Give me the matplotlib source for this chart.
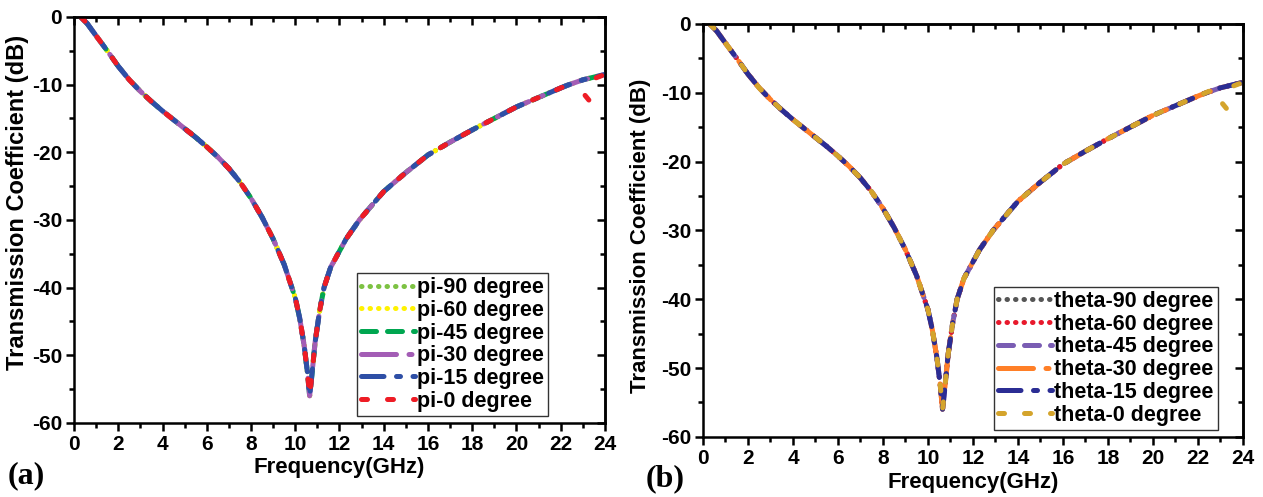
import numpy as np
import matplotlib
matplotlib.use("Agg")
import matplotlib.pyplot as plt

# ---- data ----
freq = [0.3, 0.6, 1.0, 1.5, 2.0, 2.5, 3.0, 3.5, 4.0, 4.5, 5.0, 5.5, 6.0, 6.5, 7.0,
        7.5, 8.0, 8.5, 9.0, 9.5, 10.0, 10.2, 10.4, 10.55, 10.65, 10.75, 10.9, 11.1,
        11.3, 11.6, 12.0, 12.3, 12.9, 13.5, 14.0, 15.0, 16.0, 17.0, 18.0, 19.0, 20.0,
        21.0, 22.0, 22.3, 23.0, 23.5, 24.0]
s21 = [0.0, -1.0, -2.8, -5.0, -7.3, -9.3, -11.0, -12.5, -13.9, -15.2, -16.5, -17.8,
       -19.2, -20.7, -22.4, -24.4, -26.8, -29.6, -32.8, -36.6, -41.5, -44.5, -48.5,
       -52.5, -56.0, -53.0, -48.0, -43.5, -40.0, -37.0, -34.6, -32.8, -30.0, -27.7,
       -25.8, -23.0, -20.4, -18.5, -16.7, -15.0, -13.3, -11.9, -10.5, -10.1, -9.3,
       -8.9, -8.5]

# pi-0 / theta-0 traces with the small glitch near 23 GHz
freq0 = [0.3, 0.6, 1.0, 1.5, 2.0, 2.5, 3.0, 3.5, 4.0, 4.5, 5.0, 5.5, 6.0, 6.5, 7.0,
         7.5, 8.0, 8.5, 9.0, 9.5, 10.0, 10.2, 10.4, 10.55, 10.65, 10.75, 10.9, 11.1,
         11.3, 11.6, 12.0, 12.3, 12.9, 13.5, 14.0, 15.0, 16.0, 17.0, 18.0, 19.0, 20.0,
         21.0, 22.0, 22.5, 22.8, 22.9, 23.1, 23.3, 23.4, 23.6, 24.0]
s21_0 = [0.0, -1.0, -2.8, -5.0, -7.3, -9.3, -11.0, -12.5, -13.9, -15.2, -16.5, -17.8,
         -19.2, -20.7, -22.4, -24.4, -26.8, -29.6, -32.8, -36.6, -41.5, -44.5, -48.5,
         -52.5, -56.0, -53.0, -48.0, -43.5, -40.0, -37.0, -34.6, -32.8, -30.0, -27.7,
         -25.8, -23.0, -20.4, -18.5, -16.7, -15.0, -13.3, -11.9, -10.5, -9.8, -9.5,
         np.nan, -11.6, -12.4, np.nan, -9.0, -8.5]

pi_labels = ["pi-90 degree", "pi-60 degree", "pi-45 degree", "pi-30 degree",
             "pi-15 degree", "pi-0 degree"]
theta_labels = ["theta-90 degree", "theta-60 degree", "theta-45 degree",
                "theta-30 degree", "theta-15 degree", "theta-0 degree"]

pi_colors = ["#7DC243", "#FFF200", "#00A650", "#A35DB5", "#2E4FA6", "#EE1C25"]
theta_colors = ["#555555", "#E8192C", "#7A5DB3", "#FF7F27", "#2B2D94", "#D4A42C"]

styles = [(0, (0.1, 1.6)), (0, (0.1, 1.6)), (0, (3.0, 2.2)), (0, (7, 2.5, 0.6, 2.5)),
          (0, (4.5, 2.5, 0.8, 2.5)), (0, (1.2, 4.0))]

xticks_major = list(range(0, 25, 2))
xticks_minor = list(range(0, 25, 1))
yticks_major = list(range(-60, 1, 10))
yticks_minor = list(range(-60, 1, 5))

plt.rcParams['font.family'] = ['Liberation Sans', 'DejaVu Sans']
plt.rcParams['font.weight'] = 'bold'
plt.rcParams['axes.unicode_minus'] = False

fig = plt.figure(figsize=(12.63, 4.97), dpi=100)
ax1 = fig.add_axes([0.0586, 0.149, 0.4204, 0.817])
ax2 = fig.add_axes([0.5566, 0.121, 0.4274, 0.831])

SPW = 1.8


def draw(ax, labels, colors, legend_anchor, ylab_size, xlab_coords, ylab_coords):
    for i, (lab, col, ls) in enumerate(zip(labels, colors, styles)):
        if i == 5:
            x, y = freq0, s21_0
        else:
            x, y = freq, s21
        ax.plot(x, y, color=col, lw=3.6, linestyle=ls, label=lab,
                dash_capstyle='round', solid_capstyle='round')
    ax.set_xlim(0, 24)
    ax.set_ylim(-60, 0)
    ax.set_xticks(xticks_major)
    ax.set_xticks(xticks_minor, minor=True)
    ax.set_yticks(yticks_major)
    ax.set_yticks(yticks_minor, minor=True)
    ax.tick_params(which='both', direction='out', top=False, right=False,
                   labelsize=15, width=SPW, pad=2.5)
    ax.tick_params(which='major', length=6)
    ax.tick_params(which='minor', length=3.5)
    for lab in ax.get_xticklabels() + ax.get_yticklabels():
        lab.set_fontweight('bold')
    for sp in ax.spines.values():
        sp.set_linewidth(SPW)

    # mirrored inward ticks on top and right
    sx = ax.secondary_xaxis('top')
    sx.set_xticks(xticks_major)
    sx.set_xticks(xticks_minor, minor=True)
    sx.tick_params(which='both', direction='in', labeltop=False, width=SPW)
    sx.tick_params(which='major', length=6)
    sx.tick_params(which='minor', length=3.5)
    sx.spines['top'].set_linewidth(SPW)
    sy = ax.secondary_yaxis('right')
    sy.set_yticks(yticks_major)
    sy.set_yticks(yticks_minor, minor=True)
    sy.tick_params(which='both', direction='in', labelright=False, width=SPW)
    sy.tick_params(which='major', length=6)
    sy.tick_params(which='minor', length=3.5)
    sy.spines['right'].set_linewidth(SPW)

    ax.set_xlabel("Frequency(GHz)", fontsize=16, fontweight='bold')
    ax.set_ylabel("Transmission Coefficient (dB)", fontsize=ylab_size,
                  fontweight='bold')
    ax.xaxis.set_label_coords(*xlab_coords)
    ax.yaxis.set_label_coords(*ylab_coords)
    leg = ax.legend(loc='lower right', bbox_to_anchor=legend_anchor,
                    prop={'family': 'Liberation Sans', 'weight': 'bold', 'size': 15.5},
                    handlelength=2.5, handletextpad=0.1, labelspacing=0.08,
                    borderpad=0.2, borderaxespad=0.0, fancybox=False, framealpha=1)
    leg.get_frame().set_edgecolor('#333333')
    leg.get_frame().set_linewidth(1.0)


draw(ax1, pi_labels, pi_colors, (0.893, 0.017), 17, (0.5, -0.084), (-0.084, 0.544))
draw(ax2, theta_labels, theta_colors, (0.954, 0.017), 16, (0.5, -0.085),
     (-0.097, 0.487))

fig.text(0.006, 0.028, "(a)", family='Liberation Serif', fontweight='bold', fontsize=23)
fig.text(0.511, 0.022, "(b)", family='Liberation Serif', fontweight='bold', fontsize=23)

fig.savefig("out.png", dpi=100)
